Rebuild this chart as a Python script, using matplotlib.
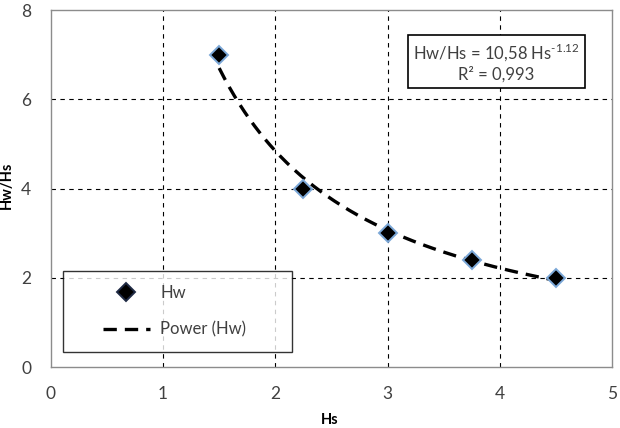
import numpy as np
import matplotlib.pyplot as plt
from matplotlib.lines import Line2D
from matplotlib.legend_handler import HandlerLine2D

plt.rcParams['font.family'] = ['Lato', 'DejaVu Sans']

hs = [1.5, 2.25, 3.0, 3.75, 4.5]
hw_hs = [7.0, 4.0, 3.0, 2.4, 2.0]
x_ticks = [0, 1, 2, 3, 4, 5]
y_ticks = [0, 2, 4, 6, 8]

# power trendline fitted in log-log space, like Excel does
b, log_a = np.polyfit(np.log(hs), np.log(hw_hs), 1)
xf = np.linspace(min(hs), max(hs), 200)
yf = np.exp(log_a) * xf ** b


class ShiftedHandler(HandlerLine2D):
    # leave empty room at the left of the handle, as Excel does
    def create_artists(self, legend, orig_handle, xdescent, ydescent, width,
                       height, fontsize, trans):
        shift = width * 0.34
        return super().create_artists(legend, orig_handle, xdescent - shift,
                                      ydescent, width - shift - 4, height,
                                      fontsize, trans)


fig = plt.figure(figsize=(6.2, 4.28), dpi=100)
ax = fig.add_axes([0.082, 0.1425, 0.905, 0.834])

ax.plot(xf, yf, ls=(0, (4, 2.4)), color='black', lw=2.4, label='Power (Hw)', zorder=3)
ax.plot(hs, hw_hs, ls='none', marker='D', ms=9, mfc='black', mec='#7ba7d7',
        mew=1.4, label='Hw', zorder=4)

ax.set_xlim(0, 5)
ax.set_ylim(0, 8)
ax.set_xticks(x_ticks)
ax.set_yticks(y_ticks)
ax.tick_params(labelsize=12.5, length=0, colors='#404040')
ax.tick_params(axis='x', pad=14)
ax.tick_params(axis='y', pad=14)

for v in x_ticks[1:-1]:
    ax.axvline(v, color='black', lw=0.8, ls=(0, (4, 4)), zorder=1)
for v in y_ticks[1:-1]:
    ax.axhline(v, color='black', lw=0.8, ls=(0, (4, 4)), zorder=1)

for s in ax.spines.values():
    s.set_color('#8c8c8c')
    s.set_linewidth(1)

ax.set_xlabel('Hs', fontsize=10.5, fontweight='bold', va='center')
ax.xaxis.set_label_coords(0.497, -0.148)
ax.set_ylabel('Hw/Hs', fontsize=10.5, fontweight='bold', va='center')
ax.yaxis.set_label_coords(-0.078, 0.51)

h, l = ax.get_legend_handles_labels()
leg = ax.legend(h[::-1], l[::-1], loc='lower left',
                bbox_to_anchor=(0.021, 0.042, 0.409, 0.2), mode='expand',
                fontsize=12, frameon=True, fancybox=False, edgecolor='black',
                borderpad=0.85, labelspacing=1.25, handlelength=4.7,
                handletextpad=0.3, borderaxespad=0,
                handler_map={Line2D: ShiftedHandler()})
leg.get_frame().set_linewidth(1)
for t in leg.get_texts():
    t.set_color('#404040')
leg.legend_handles[0].set_markeredgecolor('#1f2a44')

ax.text(0.794, 0.854, 'Hw/Hs = 10,58 Hs$^{\\mathregular{‐1.12}}$\nR² = 0,993',
        transform=ax.transAxes, ha='center', va='center', fontsize=12,
        color='#404040', linespacing=1.25, zorder=5,
        bbox=dict(boxstyle='square,pad=0.3', fc='white', ec='black', lw=1.2))

fig.savefig('out.png', dpi=100)
